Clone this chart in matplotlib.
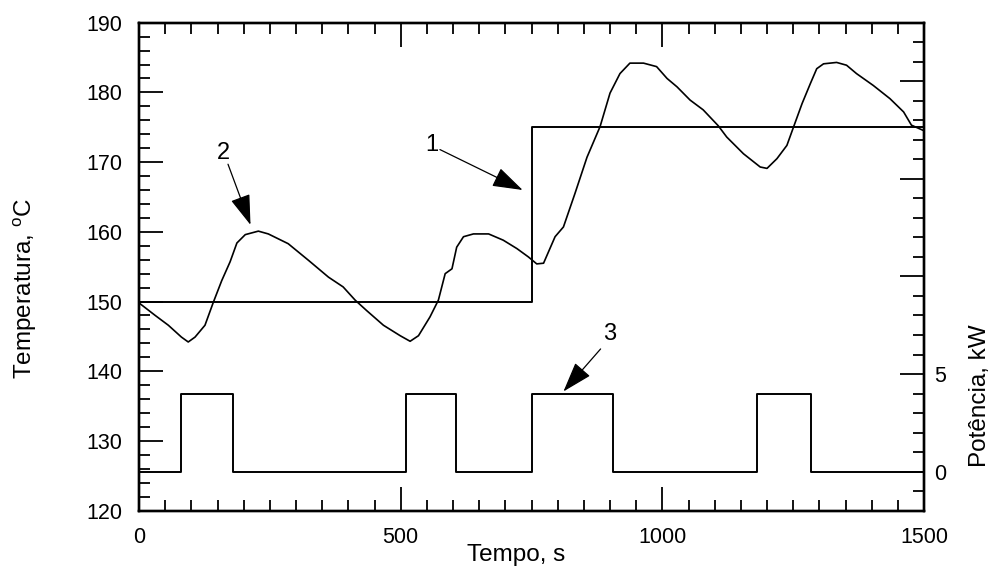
import matplotlib

matplotlib.use("Agg")
import matplotlib.pyplot as plt
from matplotlib.ticker import FixedLocator, MultipleLocator, FuncFormatter

# temperature response (s, degC)
time_s = [
    0, 31, 56, 81, 94, 107, 126, 142, 158, 174,
    187, 203, 228, 247, 285, 324, 362, 390, 413, 435,
    467, 499, 518, 534, 556, 572, 585, 598, 607, 620,
    639, 668, 696, 722, 744, 760, 773, 795, 811, 833,
    856, 881, 900, 919, 938, 964, 989, 1009, 1028, 1053,
    1078, 1107, 1123, 1155, 1187, 1200, 1219, 1238, 1251, 1267,
    1283, 1295, 1308, 1333, 1352, 1371, 1403, 1435, 1461, 1476,
    1500,
]
temp_c = [
    149.8, 148.0, 146.6, 144.9, 144.2, 144.9, 146.6, 149.9, 153.0, 155.7,
    158.4, 159.6, 160.1, 159.7, 158.3, 155.9, 153.5, 152.1, 150.2, 148.7,
    146.6, 145.1, 144.3, 145.1, 147.8, 150.2, 154.0, 154.7, 157.8, 159.3,
    159.7, 159.7, 158.8, 157.6, 156.4, 155.4, 155.5, 159.3, 160.7, 165.5,
    170.7, 175.1, 179.9, 182.7, 184.2, 184.2, 183.7, 182.0, 180.8, 178.9,
    177.5, 175.2, 173.6, 171.2, 169.3, 169.1, 170.5, 172.4, 175.1, 178.4,
    181.3, 183.4, 184.1, 184.3, 183.9, 182.7, 181.0, 179.1, 177.2, 175.3,
    174.5,
]

# setpoint step
setpoint_t = [0, 750, 1500]
setpoint_c = [150, 175, 175]

# heater power pulses (kW)
pulse_on = [80, 510, 750, 1180]
pulse_off = [180, 605, 905, 1285]
pulse_kw = 4.0

# annotations: label, text position, arrow tail, arrow tip (data units, left axis)
notes = [
    ("2", (162, 171.3), (170, 169.7), (213, 161.0)),
    ("1", (560, 172.4), (575, 171.8), (733, 166.0)),
    ("3", (900, 145.4), (882, 143.2), (811, 137.1)),
]

plt.rcParams["font.family"] = ["Liberation Sans", "DejaVu Sans"]
plt.rcParams["mathtext.fontset"] = "custom"
plt.rcParams["mathtext.rm"] = "Liberation Sans"

fig = plt.figure(figsize=(9.91, 5.79), dpi=100)
ax = fig.add_axes([0.1403, 0.1180, 0.7921, 0.8428])
ax2 = ax.twinx()

ax.plot(time_s, temp_c, color="black", lw=1.2)
ax.plot(setpoint_t, setpoint_c, color="black", lw=1.4, drawstyle="steps-post")

pw_t = [0]
pw_v = [0]
for on, off in zip(pulse_on, pulse_off):
    pw_t += [on, on, off, off]
    pw_v += [0, pulse_kw, pulse_kw, 0]
pw_t.append(1500)
pw_v.append(0)
ax2.plot(pw_t, pw_v, color="black", lw=1.4)

for label, txt, tail, tip in notes:
    ax.text(*txt, label, fontsize=17, ha="center", va="center")
    ax.annotate(
        "",
        xy=tip,
        xytext=tail,
        arrowprops=dict(
            arrowstyle="-|>,head_length=1.0,head_width=0.33",
            mutation_scale=19,
            color="black",
            lw=0.9,
            shrinkA=0,
            shrinkB=0,
        ),
    )

ax.set_xlim(0, 1500)
ax.set_ylim(120, 190)
ax2.set_ylim(-2, 23)

ax.xaxis.set_major_locator(FixedLocator([0, 500, 1000, 1500]))
ax.xaxis.set_minor_locator(MultipleLocator(50))
ax.yaxis.set_major_locator(MultipleLocator(10))
ax.yaxis.set_minor_locator(MultipleLocator(2))
ax2.yaxis.set_major_locator(FixedLocator([0, 5, 10, 15, 20]))
ax2.yaxis.set_minor_locator(MultipleLocator(1))
ax2.yaxis.set_major_formatter(FuncFormatter(lambda v, p: f"{v:.0f}" if v <= 5 else ""))

ax.tick_params(which="both", direction="in", top=True, right=False, width=1.3,
               labelsize=15.5, pad=12)
ax.tick_params(which="major", length=17)
ax.tick_params(which="minor", length=8)
ax2.tick_params(which="both", direction="in", left=False, right=True, width=1.3,
                labelsize=15.5, pad=7)
ax2.tick_params(which="major", length=17)
ax2.tick_params(which="minor", length=8)

for spine in ax.spines.values():
    spine.set_linewidth(1.7)
for spine in ax2.spines.values():
    spine.set_linewidth(1.7)

ax.set_xlabel("Tempo, s", fontsize=17.5)
ax.xaxis.set_label_coords(0.48, -0.068)
ax.set_ylabel(r"Temperatura, $^{\mathrm{o}}$C", fontsize=17.5)
ax.yaxis.set_label_coords(-0.127, 0.455)
ax2.set_ylabel("Potência, kW", fontsize=17.5)
ax2.yaxis.set_label_coords(1.057, 0.235)

fig.savefig("out.png", dpi=100)
